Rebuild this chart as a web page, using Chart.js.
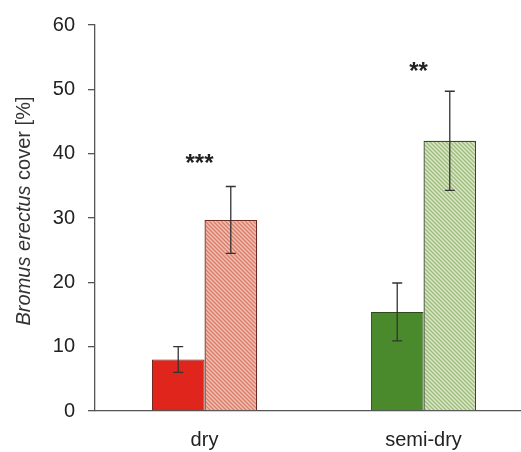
<!DOCTYPE html>
<html>
<head>
<meta charset="utf-8">
<script src="https://cdn.jsdelivr.net/npm/chart.js@4"></script>
<style>
  html,body{margin:0;padding:0;background:#fff;overflow:hidden;}
  #wrap{width:521px;height:452px;overflow:hidden;}
</style>
</head>
<body>
<div id="wrap"><canvas id="c" width="533" height="452"></canvas></div>
<script>
const sitios = ["dry", "semi-dry"];
const mediaSolida = [8.0, 15.4];
const errSolida   = [2.0, 4.5];
const mediaRayada = [29.7, 42.0];
const errRayada   = [5.2, 7.7];
const signif  = ["***", "**"];
const signifY = [39.5, 53.8];
const yTicks  = [0, 10, 20, 30, 40, 50, 60];

/* ---------- rayado diagonal ---------- */
function rayado(fondo, linea){
  const p = document.createElement("canvas");
  p.width = 4; p.height = 4;
  const g = p.getContext("2d");
  g.fillStyle = fondo; g.fillRect(0,0,4,4);
  g.strokeStyle = linea; g.lineWidth = 1.3;
  g.beginPath();
  g.moveTo(0,0); g.lineTo(4,4);
  g.moveTo(-1,3); g.lineTo(1,5);
  g.moveTo(3,-1); g.lineTo(5,1);
  g.stroke();
  return g.createPattern(p, "repeat");
}
const ctx = document.getElementById("c").getContext("2d");
const rojoRayado  = rayado("#f3c0b0", "#d67c6a");
const verdeRayado = rayado("#dae8c4", "#9cba7e");

/* ---------- barras de error + asteriscos + título eje ---------- */
const extras = {
  id: "extras",
  afterDatasetsDraw(chart){
    const c = chart.ctx, y = chart.scales.y, x = chart.scales.x;
    const errs = [errSolida, errRayada];
    c.save();
    c.strokeStyle = "#333"; c.lineWidth = 1.3;
    chart.data.datasets.forEach((ds, di) => {
      chart.getDatasetMeta(di).data.forEach((bar, i) => {
        const v = ds.data[i], e = errs[di][i];
        const t = y.getPixelForValue(v + e), b = y.getPixelForValue(v - e);
        c.beginPath();
        c.moveTo(bar.x, t); c.lineTo(bar.x, b);
        c.moveTo(bar.x - 5, t); c.lineTo(bar.x + 5, t);
        c.moveTo(bar.x - 5, b); c.lineTo(bar.x + 5, b);
        c.stroke();
      });
    });
    c.fillStyle = "#222"; c.font = "bold 24px 'Liberation Sans', Arial";
    c.textAlign = "center"; c.textBaseline = "alphabetic";
    signif.forEach((s, i) => {
      c.fillText(s, x.getPixelForValue(i) - 5, y.getPixelForValue(signifY[i]) + 14);
    });
    // título del eje y, parte en cursiva
    c.translate(24, 211); c.rotate(-Math.PI/2);
    c.fillStyle = "#333"; c.textBaseline = "middle"; c.textAlign = "left";
    const it = "Bromus erectus", rest = " cover [%]";
    c.font = "italic 20px 'Liberation Sans', Arial";
    const w1 = c.measureText(it).width;
    c.font = "20px 'Liberation Sans', Arial";
    const w2 = c.measureText(rest).width;
    const x0 = -(w1 + w2) / 2;
    c.font = "italic 20px 'Liberation Sans', Arial";
    c.fillText(it, x0, 0);
    c.font = "20px 'Liberation Sans', Arial";
    c.fillText(rest, x0 + w1, 0);
    c.restore();
  }
};

new Chart(ctx, {
  type: "bar",
  data: {
    labels: sitios,
    datasets: [
      { data: mediaSolida, backgroundColor: ["#e0261c", "#4a8a2c"],
        borderColor: ["#6a1a14", "#2c4a1c"], borderWidth: 1 },
      { data: mediaRayada, backgroundColor: [rojoRayado, verdeRayado],
        borderColor: ["#6a2a20", "#3a4a2c"], borderWidth: 1.3 }
    ]
  },
  plugins: [extras],
  options: {
    responsive: false,
    animation: false,
    layout: { padding: { top: 24, right: 0, left: 0, bottom: 0 } },
    plugins: { legend: { display: false }, tooltip: { enabled: false } },
    datasets: { bar: { categoryPercentage: 0.48, barPercentage: 1.0 } },
    scales: {
      x: {
        grid: { display: false },
        border: { display: true, color: "#555", width: 1.3 },
        ticks: { color: "#222", font: { size: 20, family: "'Liberation Sans', Arial" }, padding: 9 },
        afterFit: s => { s.height = 41; }
      },
      y: {
        min: 0, max: 60,
        afterBuildTicks: s => { s.ticks = yTicks.map(v => ({ value: v })); },
        grid: { display: true, drawOnChartArea: false, drawTicks: true, tickLength: 7, color: "#555", lineWidth: 1.3 },
        border: { display: true, color: "#555", width: 1.3 },
        ticks: { color: "#222", font: { size: 20, family: "'Liberation Sans', Arial" }, padding: 13 },
        afterFit: s => { s.width = 95; }
      }
    }
  }
});
</script>
</body>
</html>
